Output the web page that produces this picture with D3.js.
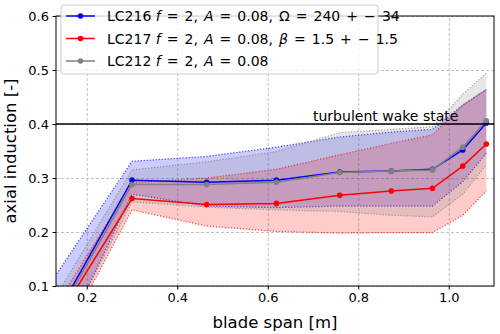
<!DOCTYPE html>
<meta charset="utf-8">
<style>
  body { margin: 0; background: #fff; }
  text { font-family: "DejaVu Sans", sans-serif; fill: #000; }
  .grid line { stroke: #b0b0b0; stroke-width: 0.8px; stroke-dasharray: 3,2; }
  .grid .domain { display: none; }
  .axis text { font-size: 13px; }
</style>
<body>
<script src="https://d3js.org/d3.v7.min.js"></script>
<script>

// blade span positions [m]
var span = [0.13, 0.3, 0.465, 0.619, 0.759, 0.873, 0.964, 1.031, 1.083];

// LC216 f=2, A=0.08, Omega=240+-34
var lc216Mean  = [0.042, 0.296, 0.292, 0.296, 0.311, 0.313, 0.316, 0.352, 0.402];
var lc216Upper = [0.118, 0.331, 0.340, 0.357, 0.376, 0.385, 0.390, 0.435, 0.464];
var lc216Lower = [-0.029, 0.270, 0.248, 0.245, 0.248, 0.248, 0.248, 0.293, 0.346];

// LC217 f=2, A=0.08, beta=1.5+-1.5
var lc217Mean  = [0.032, 0.262, 0.251, 0.253, 0.268, 0.276, 0.281, 0.322, 0.363];
var lc217Upper = [0.061, 0.291, 0.300, 0.316, 0.343, 0.364, 0.380, 0.435, 0.464];
var lc217Lower = [-0.026, 0.241, 0.211, 0.201, 0.198, 0.199, 0.199, 0.231, 0.276];

// LC212 f=2, A=0.08
var lc212Mean  = [0.035, 0.288, 0.288, 0.292, 0.310, 0.313, 0.315, 0.357, 0.406];
var lc212Upper = [0.079, 0.315, 0.330, 0.349, 0.384, 0.390, 0.395, 0.455, 0.494];
var lc212Lower = [-0.023, 0.256, 0.246, 0.241, 0.238, 0.231, 0.228, 0.270, 0.324];

var xTicks = [0.2, 0.4, 0.6, 0.8, 1.0];
var yTicks = [0.1, 0.2, 0.3, 0.4, 0.5, 0.6];
var wakeLimit = 0.4;

var series = [
  {name: "LC216", color: "#0000ff", mean: lc216Mean, upper: lc216Upper, lower: lc216Lower},
  {name: "LC217", color: "#ff0000", mean: lc217Mean, upper: lc217Upper, lower: lc217Lower},
  {name: "LC212", color: "#808080", mean: lc212Mean, upper: lc212Upper, lower: lc212Lower}
];

// set the dimensions and margins of the graph
var margin = {top: 16, right: 6, bottom: 48, left: 56},
    width = 500 - margin.left - margin.right,
    height = 334 - margin.top - margin.bottom;

var x = d3.scaleLinear().domain([0.132, 1.1]).range([0, width]);
var y = d3.scaleLinear().domain([0.1, 0.6]).range([height, 0]);

var svg = d3.select("body").append("svg")
    .attr("width", 500)
    .attr("height", 334)
  .append("g")
    .attr("transform", "translate(" + margin.left + "," + margin.top + ")");

svg.append("clipPath").attr("id", "clip")
  .append("rect").attr("width", width).attr("height", height);

// grid
svg.append("g").attr("class", "grid")
    .attr("transform", "translate(0," + height + ")")
    .call(d3.axisBottom(x).tickValues(xTicks).tickSize(-height).tickFormat(""));
svg.append("g").attr("class", "grid")
    .call(d3.axisLeft(y).tickValues(yTicks).tickSize(-width).tickFormat(""));

var plot = svg.append("g").attr("clip-path", "url(#clip)");

var area = d3.area()
    .x(function(d) { return x(d.x); })
    .y0(function(d) { return y(d.lo); })
    .y1(function(d) { return y(d.hi); });

var line = d3.line()
    .x(function(d) { return x(d[0]); })
    .y(function(d) { return y(d[1]); });

function pairs(vals) {
  return span.map(function(s, i) { return [s, vals[i]]; });
}

series.forEach(function(s) {
  var band = span.map(function(v, i) { return {x: v, lo: s.lower[i], hi: s.upper[i]}; });
  plot.append("path")
      .datum(band)
      .attr("d", area)
      .attr("fill", s.color)
      .attr("fill-opacity", 0.2);
  [s.upper, s.lower].forEach(function(edge) {
    plot.append("path")
        .datum(pairs(edge))
        .attr("d", line)
        .attr("fill", "none")
        .attr("stroke", s.color)
        .attr("stroke-opacity", 0.75)
        .attr("stroke-width", 1.2)
        .attr("stroke-dasharray", "1.2,1.8");
  });
});

series.forEach(function(s) {
  plot.append("path")
      .datum(pairs(s.mean))
      .attr("d", line)
      .attr("fill", "none")
      .attr("stroke", s.color)
      .attr("stroke-width", 1.5);
  plot.selectAll(null)
      .data(pairs(s.mean))
      .enter().append("circle")
      .attr("cx", function(d) { return x(d[0]); })
      .attr("cy", function(d) { return y(d[1]); })
      .attr("r", 2.8)
      .attr("fill", s.color);
});

// turbulent wake state line
svg.append("line")
    .attr("x1", 0).attr("x2", width)
    .attr("y1", y(wakeLimit)).attr("y2", y(wakeLimit))
    .attr("stroke", "#000")
    .attr("stroke-width", 1.5);
svg.append("text")
    .attr("x", x(0.7))
    .attr("y", y(0.405))
    .style("font-size", "14px")
    .text("turbulent wake state");

// axes
var xAxis = svg.append("g").attr("class", "axis")
    .attr("transform", "translate(0," + height + ")")
    .call(d3.axisBottom(x).tickValues(xTicks).tickSize(3.5).tickPadding(3.5).tickFormat(d3.format(".1f")));
var yAxis = svg.append("g").attr("class", "axis")
    .call(d3.axisLeft(y).tickValues(yTicks).tickSize(3.5).tickPadding(3.5).tickFormat(d3.format(".1f")));
svg.selectAll(".axis .domain").remove();
svg.selectAll(".axis line").attr("stroke", "#000");
svg.selectAll(".axis text").style("font-family", "DejaVu Sans").style("font-size", "13px");

svg.append("rect")
    .attr("width", width).attr("height", height)
    .attr("fill", "none").attr("stroke", "#000").attr("stroke-width", 1);

svg.append("text")
    .attr("x", width / 2)
    .attr("y", height + 42)
    .attr("text-anchor", "middle")
    .style("font-size", "16.5px")
    .text("blade span [m]");

svg.append("text")
    .attr("transform", "rotate(-90)")
    .attr("x", -height / 2)
    .attr("y", -40)
    .attr("text-anchor", "middle")
    .style("font-size", "16.5px")
    .text("axial induction [-]");

// legend
var legend = svg.append("g").attr("transform", "translate(" + (61 - margin.left) + "," + (5 - margin.top) + ")");
legend.append("rect")
    .attr("width", 317).attr("height", 69)
    .attr("rx", 3).attr("ry", 3)
    .attr("fill", "#fff").attr("fill-opacity", 0.8)
    .attr("stroke", "#cccccc").attr("stroke-width", 1);

var labels = [
  [["LC216 ", ""], ["f", "i"], [" = 2, ", ""], ["A", "i"], [" = 0.08, Ω = 240 + \u2212 34", ""]],
  [["LC217 ", ""], ["f", "i"], [" = 2, ", ""], ["A", "i"], [" = 0.08, ", ""], ["β", "i"], [" = 1.5 + \u2212 1.5", ""]],
  [["LC212 ", ""], ["f", "i"], [" = 2, ", ""], ["A", "i"], [" = 0.08", ""]]
];

series.forEach(function(s, i) {
  var row = legend.append("g").attr("transform", "translate(0," + (11 + i * 22.5) + ")");
  row.append("line")
      .attr("x1", 5).attr("x2", 34)
      .attr("stroke", s.color).attr("stroke-width", 1.5);
  row.append("circle").attr("cx", 19.5).attr("r", 2.8).attr("fill", s.color);
  var t = row.append("text")
      .attr("x", 46).attr("y", 5)
      .style("font-size", "14px");
  labels[i].forEach(function(p, j) {
    t.append("tspan")
        .style("font-style", p[1] === "i" ? "italic" : "normal")
        .style("word-spacing", j === 0 ? "0px" : "1.6px")
        .text(p[0]);
  });
});

</script>
</body>
